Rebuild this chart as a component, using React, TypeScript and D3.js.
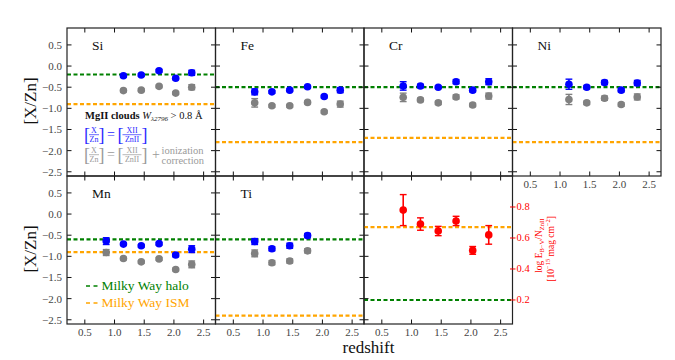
import React from 'react';
import * as d3 from 'd3';

// redshift bins
const zAll = [0.86, 1.15, 1.45, 1.75, 2.03, 2.3];
const zNoFirst = [1.15, 1.45, 1.75, 2.03, 2.3];
const zTi = [0.86, 1.15, 1.45, 1.75];

// [X/Zn] without (blue) and with (gray) ionization correction
const siBlue = [-0.23, -0.21, -0.11, -0.29, -0.16];
const siBlueErr = [0.03, 0.03, 0.03, 0.03, 0.06];
const siGray = [-0.58, -0.57, -0.48, -0.64, -0.5];
const siGrayErr = [0.03, 0.03, 0.03, 0.03, 0.06];

const feBlue = [-0.61, -0.61, -0.57, -0.49, -0.72, -0.57];
const feBlueErr = [0.07, 0.03, 0.03, 0.03, 0.03, 0.06];
const feGray = [-0.87, -0.94, -0.94, -0.86, -1.08, -0.9];
const feGrayErr = [0.1, 0.03, 0.03, 0.03, 0.03, 0.07];

const crBlue = [-0.47, -0.47, -0.5, -0.37, -0.57, -0.37];
const crBlueErr = [0.1, 0.04, 0.03, 0.05, 0.04, 0.07];
const crGray = [-0.74, -0.8, -0.87, -0.73, -0.92, -0.71];
const crGrayErr = [0.1, 0.04, 0.04, 0.05, 0.04, 0.07];

const niBlue = [-0.43, -0.5, -0.39, -0.57, -0.4];
const niBlueErr = [0.12, 0.04, 0.05, 0.04, 0.06];
const niGray = [-0.79, -0.87, -0.76, -0.91, -0.73];
const niGrayErr = [0.12, 0.04, 0.05, 0.04, 0.07];

const mnBlue = [-0.64, -0.71, -0.75, -0.7, -0.97, -0.83];
const mnBlueErr = [0.08, 0.03, 0.03, 0.03, 0.04, 0.08];
const mnGray = [-0.91, -1.05, -1.13, -1.06, -1.31, -1.19];
const mnGrayErr = [0.07, 0.03, 0.03, 0.03, 0.03, 0.08];

const tiBlue = [-0.65, -0.82, -0.75, -0.51];
const tiBlueErr = [0.07, 0.05, 0.06, 0.05];
const tiGray = [-0.93, -1.15, -1.11, -0.87];
const tiGrayErr = [0.08, 0.05, 0.05, 0.05];

// reference levels
const haloLevels = [-0.2, -0.5, -0.5, -0.5, -0.6, -0.6];
const ismLevels = [-0.9, -1.8, -1.7, -1.8, -0.9, -2.4];

// dust-to-metal ratio
const ebvN = [0.78, 0.69, 0.645, 0.71, 0.52, 0.62];
const ebvNErr = [0.1, 0.04, 0.03, 0.03, 0.025, 0.06];
const ebvIsm = 0.67;
const ebvHalo = 0.2;

const xTicks = [0.5, 1.0, 1.5, 2.0, 2.5];
const yTicks = [0.5, 0.0, -0.5, -1.0, -1.5, -2.0, -2.5];
const redTicks = [0.2, 0.4, 0.6, 0.8];

const FONT = 'Liberation Serif, DejaVu Serif, serif';
const BLUE = '#0000ff';
const GRAY = '#808080';
const RED = '#ff0000';
const GREEN = '#008000';
const ORANGE = '#ffa500';

const left0 = 67;
const top0 = 28;
const pw = 148.5;
const ph = 148;

const fmt = (v: number) => (v < 0 ? '\u2212' : '') + Math.abs(v).toFixed(1);

type Series = { z: number[]; v: number[]; e: number[] };

function Points({ s, x, y, color }: { s: Series; x: any; y: any; color: string }) {
  return (
    <g>
      {s.z.map((z, i) => {
        const cx = x(z);
        const y1 = y(s.v[i] + s.e[i]);
        const y2 = y(s.v[i] - s.e[i]);
        return (
          <g key={i}>
            <line x1={cx} x2={cx} y1={y1} y2={y2} stroke={color} strokeWidth={1.6} />
            <line x1={cx - 3.4} x2={cx + 3.4} y1={y1} y2={y1} stroke={color} strokeWidth={1.4} />
            <line x1={cx - 3.4} x2={cx + 3.4} y1={y2} y2={y2} stroke={color} strokeWidth={1.4} />
            <circle cx={cx} cy={y(s.v[i])} r={3.8} fill={color} />
          </g>
        );
      })}
    </g>
  );
}

function Frame({ x0, y0, x, y, showY, showX, rightTicks = true }: any) {
  return (
    <g>
      {xTicks.map((t) => (
        <g key={'x' + t}>
          <line x1={x(t)} x2={x(t)} y1={y0} y2={y0 + 4.5} stroke="#111" strokeWidth={1} />
          <line x1={x(t)} x2={x(t)} y1={y0 + ph} y2={y0 + ph - 4.5} stroke="#111" strokeWidth={1} />
          {showX && (
            <text x={x(t)} y={y0 + ph + 12} textAnchor="middle" fontFamily={FONT} fontSize={11} fill="#444">
              {t.toFixed(1)}
            </text>
          )}
        </g>
      ))}
      {yTicks.map((t) => (
        <g key={'y' + t}>
          <line x1={x0} x2={x0 + 4.5} y1={y(t)} y2={y(t)} stroke="#111" strokeWidth={1} />
          {rightTicks && <line x1={x0 + pw} x2={x0 + pw - 4.5} y1={y(t)} y2={y(t)} stroke="#111" strokeWidth={1} />}
          {showY && (
            <text x={x0 - 5} y={y(t) + 4} textAnchor="end" fontFamily={FONT} fontSize={11} fill="#444">
              {fmt(t)}
            </text>
          )}
        </g>
      ))}
      <rect x={x0} y={y0} width={pw} height={ph} fill="none" stroke="#222" strokeWidth={1.2} />
    </g>
  );
}

function Panel({ col, row, name, blue, gray, halo, ism, showY, showX }: any) {
  const x0 = left0 + col * pw;
  const y0 = top0 + row * ph;
  const x = d3.scaleLinear().domain([0.2, 2.7]).range([x0, x0 + pw]);
  const y = d3.scaleLinear().domain([-2.6, 0.9]).range([y0 + ph, y0]);
  return (
    <g>
      <line x1={x0} x2={x0 + pw} y1={y(halo)} y2={y(halo)} stroke={GREEN} strokeWidth={2.2} strokeDasharray="4,2.5" />
      <line x1={x0} x2={x0 + pw} y1={y(ism)} y2={y(ism)} stroke={ORANGE} strokeWidth={2.2} strokeDasharray="4,2.5" />
      <Points s={gray} x={x} y={y} color={GRAY} />
      <Points s={blue} x={x} y={y} color={BLUE} />
      <text x={x0 + 25} y={y0 + 22} fontFamily={FONT} fontSize={13.5} fill="#111">{name}</text>
      <Frame x0={x0} y0={y0} x={x} y={y} showY={showY} showX={showX} />
    </g>
  );
}

function Frac({ cx, y, num, den, w, color }: any) {
  return (
    <g fill={color} fontFamily={FONT} fontSize={8} textAnchor="middle">
      <text x={cx} y={y - 1.6}>{num}</text>
      <line x1={cx - w / 2} x2={cx + w / 2} y1={y} y2={y} stroke={color} strokeWidth={0.7} />
      <text x={cx} y={y + 6.8}>{den}</text>
    </g>
  );
}

function RatioRow({ y, color }: { y: number; color: string }) {
  const br = { fontFamily: FONT, fontSize: 18, fill: color, textAnchor: 'middle' as const };
  return (
    <g>
      <text x={87} y={y + 5.8} {...br}>[</text>
      <Frac cx={94} y={y} num="X" den="Zn" w={10} color={color} />
      <text x={101.5} y={y + 5.8} {...br}>]</text>
      <text x={111} y={y + 4.2} fontFamily={FONT} fontSize={14} fill={color} textAnchor="middle">=</text>
      <text x={120.5} y={y + 5.8} {...br}>[</text>
      <Frac cx={132} y={y} num="XII" den="ZnII" w={19} color={color} />
      <text x={144.5} y={y + 5.8} {...br}>]</text>
    </g>
  );
}

function RedPanel() {
  const col = 2;
  const row = 1;
  const x0 = left0 + col * pw;
  const y0 = top0 + row * ph;
  const x = d3.scaleLinear().domain([0.2, 2.7]).range([x0, x0 + pw]);
  const y = d3.scaleLinear().domain([-2.6, 0.9]).range([y0 + ph, y0]);
  const yr = d3.scaleLinear().domain([0.045, 1.0]).range([y0 + ph, y0]);
  const s: Series = { z: zAll, v: ebvN, e: ebvNErr };
  const xr = x0 + pw;
  return (
    <g>
      <line x1={x0} x2={xr} y1={yr(ebvIsm)} y2={yr(ebvIsm)} stroke={ORANGE} strokeWidth={2.2} strokeDasharray="4,2.5" />
      <line x1={x0} x2={xr} y1={yr(ebvHalo)} y2={yr(ebvHalo)} stroke={GREEN} strokeWidth={2.2} strokeDasharray="4,2.5" />
      <Points s={s} x={x} y={yr} color={RED} />
      <Frame x0={x0} y0={y0} x={x} y={y} showY={false} showX={true} rightTicks={false} />
      {redTicks.map((t) => (
        <g key={t}>
          <line x1={xr - 2.5} x2={xr + 3} y1={yr(t)} y2={yr(t)} stroke={RED} strokeWidth={1} />
          <text x={xr + 4} y={yr(t) + 3.5} fontFamily={FONT} fontSize={10.5} fill={RED}>{t.toFixed(1)}</text>
        </g>
      ))}
      <text transform={`translate(${xr + 29},${yr(0.55)}) rotate(-90)`} textAnchor="middle" fontFamily={FONT} fontSize={9.5} fill={RED}>
        log E<tspan fontSize={6.5} dy={2}>B{'\u2212'}V</tspan>
        <tspan dy={-2}>/N</tspan>
        <tspan fontSize={6.5} dy={2}>ZnII</tspan>
      </text>
      <text transform={`translate(${xr + 41},${yr(0.53)}) rotate(-90)`} textAnchor="middle" fontFamily={FONT} fontSize={9.5} fill={RED}>
        [10<tspan fontSize={6.5} dy={-3.5}>{'\u2212'}15</tspan>
        <tspan dy={3.5}> mag cm</tspan>
        <tspan fontSize={6.5} dy={-3.5}>{'\u2212'}2</tspan>
        <tspan dy={3.5}>]</tspan>
      </text>
    </g>
  );
}

export default function App() {
  return (
    <svg width={675} height={360} style={{ position: 'absolute', left: 0, top: 0, background: '#fff' }}>
      <Panel col={0} row={0} name="Si" showY blue={{ z: zNoFirst, v: siBlue, e: siBlueErr }} gray={{ z: zNoFirst, v: siGray, e: siGrayErr }} halo={haloLevels[0]} ism={ismLevels[0]} />
      <Panel col={1} row={0} name="Fe" blue={{ z: zAll, v: feBlue, e: feBlueErr }} gray={{ z: zAll, v: feGray, e: feGrayErr }} halo={haloLevels[1]} ism={ismLevels[1]} />
      <Panel col={2} row={0} name="Cr" blue={{ z: zAll, v: crBlue, e: crBlueErr }} gray={{ z: zAll, v: crGray, e: crGrayErr }} halo={haloLevels[2]} ism={ismLevels[2]} />
      <Panel col={3} row={0} name="Ni" showX blue={{ z: zNoFirst, v: niBlue, e: niBlueErr }} gray={{ z: zNoFirst, v: niGray, e: niGrayErr }} halo={haloLevels[3]} ism={ismLevels[3]} />
      <Panel col={0} row={1} name="Mn" showY showX blue={{ z: zAll, v: mnBlue, e: mnBlueErr }} gray={{ z: zAll, v: mnGray, e: mnGrayErr }} halo={haloLevels[4]} ism={ismLevels[4]} />
      <Panel col={1} row={1} name="Ti" showX blue={{ z: zTi, v: tiBlue, e: tiBlueErr }} gray={{ z: zTi, v: tiGray, e: tiGrayErr }} halo={haloLevels[5]} ism={ismLevels[5]} />
      <RedPanel />

      {/* legend inside Si panel */}
      <text x={85} y={118.7} fontFamily={FONT} fontSize={10.5} fill="#111">
        <tspan fontWeight="bold">MgII clouds </tspan>
        <tspan fontStyle="italic">W</tspan>
        <tspan fontStyle="italic" fontSize={7} dy={2}>{'\u03bb'}2796</tspan>
        <tspan dy={-2}> &gt; 0.8 {'\u00c5'}</tspan>
      </text>
      <RatioRow y={134.7} color="#2a2aff" />
      <RatioRow y={154.7} color="#9a9a9a" />
      <text x={156} y={159} fontFamily={FONT} fontSize={14} fill="#9a9a9a" textAnchor="middle">+</text>
      <text x={161.5} y={154} fontFamily={FONT} fontSize={10.5} fill="#9a9a9a">ionization</text>
      <text x={161.5} y={163.5} fontFamily={FONT} fontSize={10.5} fill="#9a9a9a">correction</text>

      {/* legend inside Mn panel */}
      <line x1={86} x2={97.5} y1={286} y2={286} stroke={GREEN} strokeWidth={1.3} strokeDasharray="4,3.5" />
      <text x={101.5} y={290} fontFamily={FONT} fontSize={13.5} fill={GREEN}>Milky Way halo</text>
      <line x1={86} x2={97.5} y1={303} y2={303} stroke={ORANGE} strokeWidth={1.3} strokeDasharray="4,3.5" />
      <text x={101.5} y={307} fontFamily={FONT} fontSize={13.5} fill={ORANGE}>Milky Way ISM</text>

      {/* axis titles */}
      <text transform="translate(36,101) rotate(-90)" textAnchor="middle" fontFamily={FONT} fontSize={17} fill="#111">[X/Zn]</text>
      <text transform="translate(36,249) rotate(-90)" textAnchor="middle" fontFamily={FONT} fontSize={17} fill="#111">[X/Zn]</text>
      <text x={368.5} y={353} textAnchor="middle" fontFamily={FONT} fontSize={17} fill="#111">redshift</text>
    </svg>
  );
}
